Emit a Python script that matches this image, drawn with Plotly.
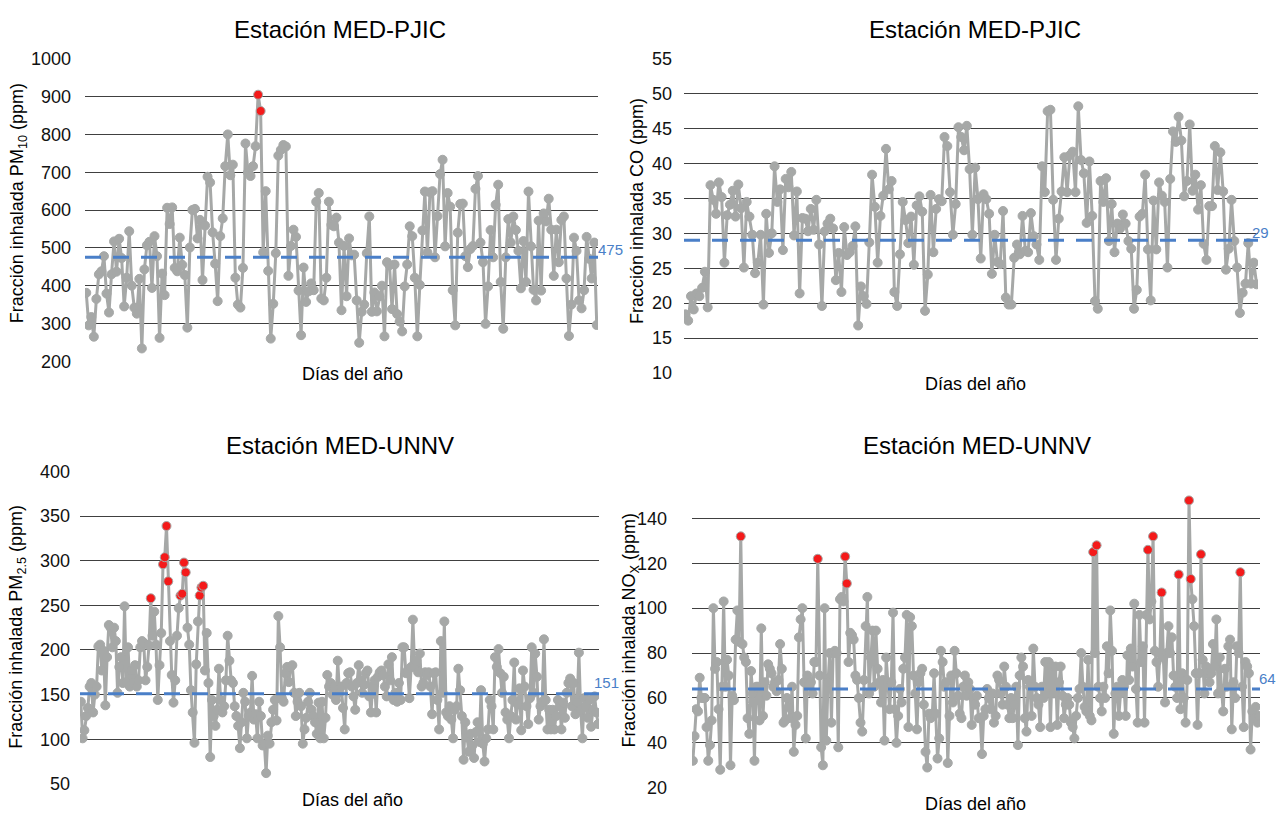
import plotly.graph_objects as go

# ---------------------------------------------------------------------------
# Daily inhaled fraction (ppm) at each station
# ---------------------------------------------------------------------------
pm10_pjic = [
    381, 295, 317, 265, 365, 430, 438, 478, 379, 329, 430, 517, 437, 524, 473, 345,
    421, 544, 400, 342, 326, 418, 234, 443, 507, 516, 394, 531, 478, 262, 432, 375,
    606, 563, 607, 447, 438, 527, 455, 428, 289, 501, 600, 603, 525, 574, 415, 559,
    688, 673, 541, 458, 359, 531, 578, 716, 800, 692, 720, 421, 350, 342, 447, 776,
    699, 690, 716, 769, 905, 862, 488, 650, 439, 260, 352, 486, 744, 759, 772, 768,
    426, 505, 548, 529, 387, 269, 448, 357, 385, 406, 388, 622, 645, 366, 361, 421,
    622, 561, 557, 580, 514, 335, 505, 372, 525, 480, 482, 361, 249, 331, 350, 486,
    583, 331, 382, 332, 372, 400, 266, 462, 454, 338, 456, 325, 305, 279, 398, 456,
    557, 531, 421, 266, 402, 546, 649, 488, 647,
    650, 475, 584, 695, 733, 504, 645, 609, 388, 295, 540, 616, 617, 478, 449, 497,
    505, 656, 690, 514, 462, 299, 398, 547, 475, 614, 667, 410, 286, 475, 576, 514,
    583, 547, 492, 393, 518, 410, 649, 504, 389, 361, 572, 387, 591, 570, 630, 548,
    426, 548, 462, 574, 583, 419, 267, 350, 527, 492, 361, 340, 388, 529, 471, 419,
    514, 296,
]

co_pjic = [
    18.4, 17.5, 21.0, 19.1, 21.4, 21.0, 22.2, 24.5, 19.4, 36.9, 34.8, 32.8, 37.3, 35.2,
    25.8, 32.6, 34.1, 36.1, 32.4, 37.0, 33.6, 25.1, 34.5, 32.4, 29.8, 24.3, 25.8, 29.8,
    19.8, 32.8, 27.2, 30.0, 39.6, 34.5, 36.3, 27.6, 37.8, 36.6, 38.8, 29.7, 36.0, 21.4,
    32.2, 32.1, 30.3, 33.5, 30.5, 34.8, 28.4, 19.6, 30.3, 31.4, 32.1, 30.7, 23.3, 27.2,
    21.6, 30.9, 26.9, 27.3, 28.2, 31.0, 16.8, 22.4, 21.0, 19.9, 28.7, 38.4, 33.8, 25.8,
    32.5, 35.4, 42.1, 36.3, 37.5, 21.6, 19.6, 27.0, 34.5, 31.9, 28.6, 32.4, 25.5, 34.0,
    35.3, 33.1, 18.9, 24.1, 35.5, 27.3, 33.5, 34.9, 34.6, 43.8, 42.5, 35.9, 29.8, 34.2,
    45.2, 43.8, 41.9, 45.4, 39.2, 29.8, 39.4, 34.9, 26.4, 35.6, 34.9, 32.8, 24.2, 29.8,
    25.9, 25.6, 33.2, 20.8, 19.8, 19.8, 26.5, 28.4, 27.0, 32.5, 27.5, 27.3, 32.9, 29.6,
    28.4, 26.2, 39.6, 35.9, 47.5, 47.7, 34.8, 26.2, 32.1, 36.0, 40.9, 35.9, 41.2,
    41.7, 35.9, 48.2, 40.5, 38.6, 31.5, 40.3, 32.5, 20.3, 19.2, 37.5, 34.5, 37.9, 28.9,
    34.2, 27.3, 31.4, 30.7, 32.7, 31.4, 28.9, 27.8, 19.2, 21.9, 32.4, 32.8, 38.4, 27.7,
    20.4, 34.7, 27.7, 37.3, 35.4, 34.5, 25.1, 37.8, 44.6, 43.1, 46.7, 43.3, 35.3, 37.5,
    45.6, 36.1, 38.4, 33.4, 36.9, 28.5, 26.2, 33.9, 33.9, 42.5, 36.2, 41.6, 36.0, 24.8,
    27.8, 34.8, 28.9, 25.1, 18.6, 21.5, 22.8, 28.6, 22.8, 25.8, 22.7,
]

pm25_unnv = [
    142, 101, 110, 126, 135, 159, 163, 130, 150, 159, 204, 206, 177, 199, 138, 192,
    228, 225, 203, 225, 210, 152, 181, 192, 163, 249, 164, 203, 159, 177, 163, 183,
    159, 166, 203, 210, 208, 166, 181, 205, 258, 216, 243, 206, 144, 183, 219, 296,
    304, 339, 277, 210, 172, 141, 166, 216, 247, 261, 263, 298, 287, 225, 206, 155,
    130, 96, 184, 232, 261, 270, 272, 177, 219, 163, 80, 144, 126, 115, 133, 179,
    144, 130, 137, 166, 216, 188, 166, 163, 137, 126, 115, 90, 119, 152, 142, 101,
    126, 130, 171, 122, 128, 101,
    142, 126, 93, 95, 62, 104, 95, 119, 133, 144, 121, 238, 203, 146, 142, 174,
    181, 164, 181, 183, 152, 126, 142, 152, 137, 95, 111, 124, 142, 152, 133, 126,
    119, 106, 141, 101, 142, 101, 124, 172, 159, 163, 150, 159, 144, 188, 152, 159,
    135, 111, 163, 174, 175, 159, 148, 133, 163, 183, 166, 152, 161, 174, 177, 148,
    130, 159, 166, 130, 170, 175, 177, 172, 159, 148, 184, 166, 192, 144, 152, 142,
    163, 144, 203, 203, 174, 177, 146, 181, 234, 181, 188, 175, 196, 159,
    163, 175, 172, 175, 159, 128, 174, 175, 144, 111, 210, 152, 232, 130, 126, 137,
    122, 101, 133, 137, 179, 155, 126, 77, 119, 102, 86, 106, 93, 79, 108, 119,
    97, 155, 95, 75, 101, 111, 144, 137, 111, 192, 181, 201, 174, 152, 170, 130,
    122, 101, 126, 144, 186, 122, 139, 157, 110, 177, 159, 137, 117, 146, 203, 152,
    196, 170, 122, 137, 142, 212, 144, 111, 133, 111, 133, 111, 126, 144, 137, 111,
    141, 124, 152, 163, 168, 137, 163, 128, 141, 197, 133, 101, 146, 137, 124, 144,
    114, 133, 148, 130, 117,
]

nox_unnv = [
    32, 43, 55, 54, 69, 60, 60, 60, 47, 32, 39, 50, 100, 73, 76, 55, 28, 65, 103, 65,
    77, 70, 30, 61, 59, 86, 99, 85, 132, 84, 78, 76, 51, 44, 72, 62, 32, 65, 65, 50,
    91, 52, 67, 61, 75, 73, 71, 65, 67, 63, 68, 84, 73, 49, 50, 60, 56, 51, 65, 36,
    48, 52, 87, 95, 100, 67, 42, 70, 66, 67, 62, 76, 76, 122, 70, 38, 30, 100, 41, 67,
    80, 49, 80, 81, 80, 38, 104, 105, 103, 123, 111, 76, 89, 88, 86, 70, 68, 60, 49, 45,
    68, 92, 105, 62, 78, 90,
    65, 90, 73, 67, 58, 68, 41, 78, 67, 55, 67, 98, 55, 40, 52, 64, 58, 73, 78, 97,
    47, 96, 92, 70, 62, 46, 67, 71, 73, 57, 36, 29, 53, 51, 53, 71, 53, 33, 42, 81,
    76, 65, 67, 31, 52, 70, 58, 81, 71, 61, 53, 51, 65, 70, 61, 67, 64, 48, 60, 57,
    61, 51, 51, 35, 52, 55, 64, 60, 55, 62, 49, 52, 70, 68, 62, 57, 74, 65, 57, 51,
    60, 51, 57, 65, 39, 70, 78, 74, 51, 45, 68, 65, 52, 82, 65, 60, 57, 47, 65, 60,
    76, 62, 76, 47, 74, 62, 74, 48, 67, 74, 61, 51, 57, 60,
    57, 49, 47, 42, 52, 60, 64, 80, 65, 56, 54, 77, 52, 50, 125, 80, 128, 65, 60, 54,
    65, 60, 83, 71, 99, 81, 44, 62, 65, 52, 62, 68, 65, 52, 79, 68, 82, 74, 102, 64,
    49, 97, 76, 83, 49, 97, 126, 95, 103, 132, 81, 76, 65, 80, 107, 78, 58, 80, 92, 80,
    87, 70, 65, 60, 115, 55, 71, 60, 49, 68, 148, 113, 104, 92, 71, 48, 71, 124, 77, 62,
    74, 71, 67, 71, 84, 74, 95, 62, 78, 64, 54, 73, 65, 83, 86, 46, 67, 60, 83, 80,
    116, 65, 47, 76, 74, 71, 37, 54, 51, 56, 49, 52,
]

# Reference level per panel (dashed line + label) and exceedance threshold (red points)
ref_levels = [475, 29, 151, 64]
flag_limits = [850, None, 255, 106]

panel_titles = ["Estación MED-PJIC", "Estación MED-PJIC",
                "Estación MED-UNNV", "Estación MED-UNNV"]
y_titles = ["Fracción inhalada PM<sub>10</sub> (ppm)",
            "Fracción inhalada CO (ppm)",
            "Fracción inhalada PM<sub>2.5</sub> (ppm)",
            "Fracción inhalada NO<sub>X</sub> (ppm)"]
x_title = "Días del año"

y_ticks = [list(range(200, 1001, 100)),
           list(range(10, 56, 5)),
           list(range(50, 401, 50)),
           list(range(20, 161, 20))]
y_tick_text = [[str(v) for v in y_ticks[0]],
               [str(v) for v in y_ticks[1]],
               [str(v) for v in y_ticks[2]],
               [str(v) if v < 160 else " " for v in y_ticks[3]]]

series = [pm10_pjic, co_pjic, pm25_unnv, nox_unnv]

# ---------------------------------------------------------------------------
# Layout geometry (pixels in a 1283 x 827 page)
# ---------------------------------------------------------------------------
W, H = 1283, 827
FONT = "Liberation Sans, Arial, Helvetica, sans-serif"
GRAY = "#A6A8A7"
RED = "#F41A1A"
BLUE = "#4A7FC8"

# plot box: left, right, top, bottom
boxes = [(85, 598, 50, 360), (684, 1258, 50, 372),
         (80, 599, 473, 793), (692, 1260, 475, 797)]
tick_standoff = [13, 11, 9, 24]
ytitle_pos = [(18, 198), (637, 206), (18, 632), (631, 636)]
title_pos = [(340, 20), (975, 20), (340, 446), (977, 446)]
xtitle_pos = [(352, 373), (975, 383), (352, 810), (975, 814)]
ref_label_shift = [(-2, 8), (-8, 8), (-7, 11), (-3, 10)]


def px_x(x):
    return x / W


def px_y(y):
    return 1 - y / H


fig = go.Figure()
annotations = []
shapes = []

for i, vals in enumerate(series):
    n = i + 1
    xa = "x" if n == 1 else f"x{n}"
    ya = "y" if n == 1 else f"y{n}"
    days = list(range(1, len(vals) + 1))
    lim = flag_limits[i]
    colors = [RED if (lim is not None and v > lim) else GRAY for v in vals]

    fig.add_trace(go.Scatter(
        x=days, y=vals, xaxis=xa, yaxis=ya, mode="lines+markers",
        line=dict(color=GRAY, width=3),
        marker=dict(size=9, color=colors, line=dict(color=GRAY, width=1)),
        showlegend=False, hoverinfo="x+y",
    ))

    l, r, t, b = boxes[i]
    lo, hi = y_ticks[i][0], y_ticks[i][-1]
    fig.update_layout(**{
        ("xaxis" if n == 1 else f"xaxis{n}"): dict(
            domain=[px_x(l), px_x(r)], anchor=ya,
            range=[0.5, len(vals) + 0.5],
            showgrid=False, zeroline=False, showline=False,
            showticklabels=False, ticks=""),
        ("yaxis" if n == 1 else f"yaxis{n}"): dict(
            domain=[px_y(b), px_y(t)], anchor=xa,
            range=[lo, hi], tickvals=y_ticks[i], ticktext=y_tick_text[i],
            showgrid=True, gridcolor="#404040", gridwidth=1.2,
            zeroline=False, showline=False, ticks="",
            ticklabelstandoff=tick_standoff[i],
            tickfont=dict(family=FONT, size=18, color="#111")),
    })

    # dashed reference level
    ref = ref_levels[i]
    shapes.append(dict(
        type="line", xref=f"{xa} domain", yref=ya, x0=0, x1=1, y0=ref, y1=ref,
        line=dict(color=BLUE, width=3, dash="16px,12px"), layer="above"))
    dx, dy = ref_label_shift[i]
    annotations.append(dict(
        xref=f"{xa} domain", yref=ya, x=1, y=ref, text=str(ref),
        showarrow=False, xanchor="left", yanchor="middle",
        xshift=dx, yshift=dy, font=dict(family=FONT, size=15, color=BLUE)))

    # panel title
    tx, ty = title_pos[i]
    annotations.append(dict(
        xref="paper", yref="paper", x=px_x(tx), y=px_y(ty), text=panel_titles[i],
        showarrow=False, xanchor="center", yanchor="middle",
        font=dict(family=FONT, size=24, color="#000")))

    # axis titles
    ax_, ay_ = xtitle_pos[i]
    annotations.append(dict(
        xref="paper", yref="paper", x=px_x(ax_), y=px_y(ay_), text=x_title,
        showarrow=False, xanchor="center", yanchor="middle",
        font=dict(family=FONT, size=18, color="#000")))
    yx, yy = ytitle_pos[i]
    annotations.append(dict(
        xref="paper", yref="paper", x=px_x(yx), y=px_y(yy), text=y_titles[i],
        showarrow=False, xanchor="center", yanchor="middle", textangle=-90,
        font=dict(family=FONT, size=18, color="#000")))

fig.update_layout(
    width=W, height=H,
    margin=dict(l=0, r=0, t=0, b=0),
    paper_bgcolor="white", plot_bgcolor="white",
    font=dict(family=FONT, color="#000"),
    shapes=shapes, annotations=annotations,
)

fig.write_html("out.html")
